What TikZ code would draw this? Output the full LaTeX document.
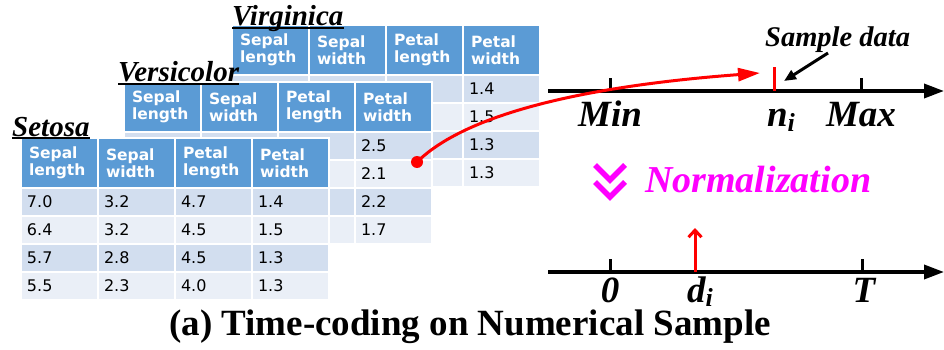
\documentclass[tikz,border=0pt]{standalone}
\usepackage{fontspec}
\setmainfont{Liberation Serif}
\newfontfamily\cellfont{DejaVu Sans}
\usepackage{xcolor}
\usetikzlibrary{arrows.meta,positioning}
\definecolor{hdblue}{HTML}{5B9BD5}
\definecolor{rowdark}{HTML}{D2DEEF}
\definecolor{rowlight}{HTML}{EAEFF7}
\definecolor{normpink}{RGB}{255,0,255}
\tikzset{
  hcell/.style={anchor=north west,fill=hdblue,draw=white,line width=2pt,minimum width=77pt,minimum height=50pt,inner xsep=8pt,inner ysep=0pt,text width=61pt,align=left,text=white,font=\cellfont\bfseries\fontsize{15.5}{16.5}\selectfont},
  dcell/.style={anchor=north west,draw=white,line width=2pt,minimum width=77pt,minimum height=28pt,inner xsep=6pt,inner ysep=0pt,text width=65pt,align=left,font=\cellfont\fontsize{16}{17}\selectfont},
  row1/.style={fill=rowdark}, row2/.style={fill=rowlight},
  row3/.style={fill=rowdark}, row4/.style={fill=rowlight},
  ttl/.style={anchor=base west,inner sep=0pt,font=\bfseries\itshape\fontsize{29}{31}\selectfont},
  uline/.style={line width=2pt},
  axis/.style={line width=3.5pt,-{Triangle[length=20pt,width=14pt]}},
  tick/.style={line width=3pt},
  axlbl/.style={anchor=base,inner sep=0pt,font=\bfseries\itshape\fontsize{37}{40}\selectfont},
  redarr/.style={red,line width=3pt,-{Triangle[length=22pt,width=13pt]}},
  ptr/.style={line width=3pt,-{Triangle[length=12pt,width=10pt]}},
  chev/.style={normpink,line width=5.5pt},
}
% one iris table: name, x, y of top left, rows
\newcommand{\iristable}[4]{%
  \foreach \cl/\hd in {1/{Sepal\\length},2/{Sepal\\width},3/{Petal\\length},4/{Petal\\width}}
    \node[hcell] (#1h\cl) at ({#2+77*(\cl-1)},#3) {\hd};
  \foreach \rw/\va/\vb/\vc/\vd in {#4}
    \foreach \cl/\val in {1/\va,2/\vb,3/\vc,4/\vd}
      \node[dcell,row\rw] (#1\rw\cl) at ({#2+77*(\cl-1)},{#3+50+28*(\rw-1)}) {\val};
}

\begin{document}
\begin{tikzpicture}[x=1pt,y=-1pt]
\useasboundingbox (0,0) rectangle (944,350);
% tables, back to front
\iristable{vir}{231}{24}{1/{}/{}/{}/1.4,2/{}/{}/{}/1.5,3/{}/{}/{}/1.3,4/{}/{}/{}/1.3}
\node[ttl] (vir) at (232,26) {Virginica};
\draw[uline] ([yshift=-2pt]vir.base west) -- ([yshift=-2pt]vir.base east);
\iristable{ver}{123}{81}{1/{}/{}/{}/2.5,2/{}/{}/{}/2.1,3/{}/{}/{}/2.2,4/{}/{}/{}/1.7}
\node[ttl] (ver) at (118,82) {Versicolor};
\draw[uline] ([yshift=-2pt]ver.base west) -- ([yshift=-2pt]ver.base east);
\iristable{set}{20}{137}{1/7.0/3.2/4.7/1.4,2/6.4/3.2/4.5/1.5,3/5.7/2.8/4.5/1.3,4/5.5/2.3/4.0/1.3}
\node[ttl] (set) at (12,136) {Setosa};
\draw[uline] ([yshift=-2pt]set.base west) -- ([yshift=-2pt]set.base east);

% raw value axis
\coordinate (ax1s) at (548,91); \coordinate (ax1e) at (944,91);
\draw[axis] (ax1s) -- (ax1e);
\coordinate (tmin) at (610,91); \coordinate (tmax) at (861,91); \coordinate (tni) at (774,91);
\draw[tick] (tmin) -- ++(0,-13);
\draw[tick] (tmax) -- ++(0,-13);
\draw[tick,red] (tni) -- ++(0,-24);
\node[axlbl] (min) at (610,127) {Min};
\node[axlbl] (ni) at (781,127) {n\raisebox{-5pt}{\fontsize{26}{26}\selectfont i}};
\node[axlbl] (max) at (861,127) {Max};
\node[anchor=base west,inner sep=0pt,font=\bfseries\itshape\fontsize{28.5}{30}\selectfont] (smp) at (765,47) {Sample data};
\coordinate (ptrs) at (828,53); \coordinate (ptre) at (784,81);
\draw[ptr] (ptrs) -- (ptre);

% sample to axis
\node[circle,fill=red,inner sep=0pt,minimum size=12pt] (dot) at (417,162) {};
\coordinate (niarr) at (760,73);
\draw[redarr] (dot.center) .. controls (470,110) and (600,85) .. (niarr);

% normalization
\draw[chev] (595,165) -- (610,180) -- (625,165);
\draw[chev] (595,182) -- (610,197) -- (625,182);
\node[anchor=base west,inner sep=0pt,text=normpink,font=\bfseries\itshape\fontsize{38}{40}\selectfont] (norm) at (645,192) {Normalization};

% time axis
\coordinate (ax2s) at (548,272); \coordinate (ax2e) at (944,272);
\draw[axis] (ax2s) -- (ax2e);
\coordinate (tzero) at (610,272); \coordinate (tT) at (862,272); \coordinate (tdi) at (695,272);
\draw[tick] (tzero) -- ++(0,-13);
\draw[tick] (tT) -- ++(0,-13);
\draw[red,line width=3pt,-{Straight Barb[length=7pt,width=13pt]}] (tdi) -- ++(0,-44);
\node[axlbl] (zero) at (610,302) {0};
\node[axlbl] (di) at (700,302) {d\raisebox{-4pt}{\fontsize{26}{26}\selectfont i}};
\node[axlbl] (T) at (864,302) {T};

\node[anchor=base,inner sep=0pt,font=\bfseries\fontsize{37}{40}\selectfont] (cap) at (470,335) {(a) Time-coding on Numerical Sample};
\end{tikzpicture}
\end{document}
